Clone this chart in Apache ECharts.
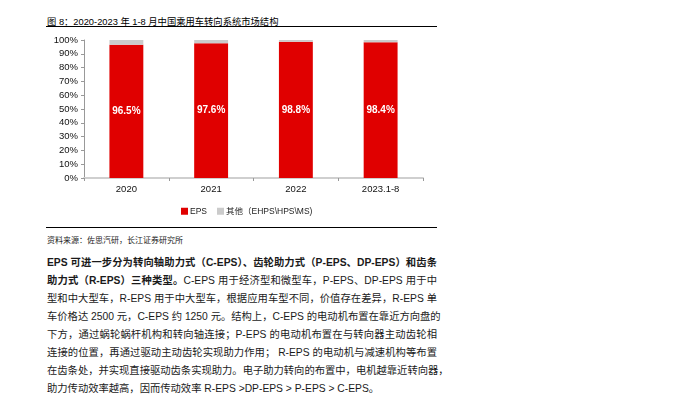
<!DOCTYPE html>
<html lang="zh">
<head>
  <meta charset="utf-8">
  <title>转向系统市场结构</title>
  <style>
    body {
      margin: 0;
      width: 673px;
      height: 404px;
      overflow: hidden;
      background: #fff;
      position: relative;
      font-family: "Liberation Sans", "Noto Sans CJK SC", sans-serif;
      color: #111;
    }
    #title {
      position: absolute;
      left: 47px;
      top: 14px;
      font-size: 9.3px;
      white-space: nowrap;
      color: #000;
    }
    .rule {
      position: absolute;
      left: 46px;
      width: 391px;
      height: 0;
      border-top: 1.5px solid #000;
    }
    #container {
      position: absolute;
      left: 0;
      top: 0;
      width: 673px;
      height: 226px;
    }
    #source {
      position: absolute;
      left: 47px;
      top: 234px;
      font-size: 8px;
      color: #222;
      white-space: nowrap;
    }
    #para {
      position: absolute;
      left: 47px;
      top: 254px;
      width: 390px;
      font-size: 10.3px;
      line-height: 18px;
      color: #1a1a1a;
    }
    #para div {
      white-space: nowrap;
      text-align: justify;
      text-align-last: justify;
    }
    #para div.last {
      text-align-last: left;
    }
  </style>
</head>
<body>
  <div id="title">图 8：2020-2023 年 1-8 月中国乘用车转向系统市场结构</div>
  <div class="rule" style="top: 25.5px"></div>
  <div id="container"></div>
  <div class="rule" style="top: 227px"></div>
  <div id="source">资料来源：佐思汽研，长江证券研究所</div>
  <div id="para">
    <div><b>EPS 可进一步分为转向轴助力式（C-EPS）、齿轮助力式（P-EPS、DP-EPS）和齿条</b></div>
    <div><b>助力式（R-EPS）三种类型。</b>C-EPS 用于经济型和微型车，P-EPS、DP-EPS 用于中</div>
    <div>型和中大型车，R-EPS 用于中大型车，根据应用车型不同，价值存在差异，R-EPS 单</div>
    <div>车价格达 2500 元，C-EPS 约 1250 元。结构上，C-EPS 的电动机布置在靠近方向盘的</div>
    <div>下方，通过蜗轮蜗杆机构和转向轴连接；P-EPS 的电动机布置在与转向器主动齿轮相</div>
    <div>连接的位置，再通过驱动主动齿轮实现助力作用； R-EPS 的电动机与减速机构等布置</div>
    <div>在齿条处，并实现直接驱动齿条实现助力。电子助力转向的布置中，电机越靠近转向器，</div>
    <div class="last">助力传动效率越高，因而传动效率 R-EPS &gt;DP-EPS &gt; P-EPS &gt; C-EPS。</div>
  </div>

  <script src="https://cdn.jsdelivr.net/npm/echarts@6/dist/echarts.min.js"></script>
  <script>
    // 数据
    var categories = ['2020', '2021', '2022', '2023.1-8'];
    var epsShare = [96.5, 97.6, 98.8, 98.4];
    var otherShare = [3.5, 2.4, 1.2, 1.6];
    var seriesNames = ['EPS', '其他（EHPS\\HPS\\MS)'];

    var chart = echarts.init(document.getElementById('container'), null, { renderer: 'canvas' });

    var option = {
      animation: false,
      textStyle: { fontFamily: '"Liberation Sans", "Noto Sans CJK SC", sans-serif' },
      grid: { left: 84, top: 40, width: 339, height: 138 },
      legend: {
        left: 176,
        top: 202,
        itemWidth: 7,
        itemHeight: 7,
        itemGap: 10,
        icon: 'rect',
        textStyle: { fontSize: 8.5, color: '#222', padding: [0, 0, 0, -3] },
        data: seriesNames
      },
      xAxis: {
        type: 'category',
        data: categories,
        axisLine: { lineStyle: { color: '#cfcfcf', width: 2 } },
        axisTick: { show: true, alignWithLabel: false, length: 3, lineStyle: { color: '#999' } },
        axisLabel: { color: '#111', fontSize: 9.5, margin: 7 }
      },
      yAxis: {
        type: 'value',
        min: 0,
        max: 100,
        interval: 10,
        splitLine: { show: false },
        axisLine: { show: true, lineStyle: { color: '#999', width: 1 } },
        axisTick: { show: true, length: 3, lineStyle: { color: '#999' } },
        axisLabel: { color: '#111', fontSize: 9.5, margin: 6, formatter: '{value}%' }
      },
      series: [
        {
          name: seriesNames[0],
          type: 'bar',
          stack: 'total',
          barWidth: '40%',
          data: epsShare,
          itemStyle: { color: '#e00000' },
          label: {
            show: true,
            position: 'inside',
            color: '#fff',
            fontWeight: 'bold',
            fontSize: 10,
            formatter: '{c}%'
          }
        },
        {
          name: seriesNames[1],
          type: 'bar',
          stack: 'total',
          barWidth: '40%',
          data: otherShare,
          itemStyle: { color: '#cbcbcb' }
        }
      ]
    };

    chart.setOption(option);
  </script>
</body>
</html>
